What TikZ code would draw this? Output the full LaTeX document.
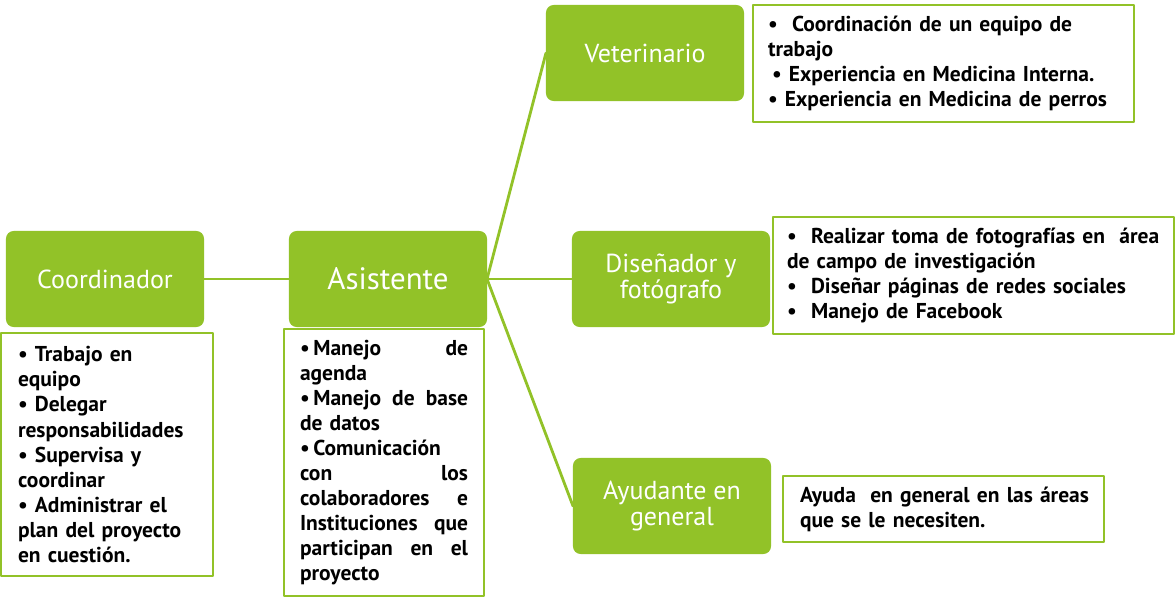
\documentclass[tikz,border=0pt]{standalone}
\usepackage{fontspec}
\setmainfont{PT Sans}
\usetikzlibrary{positioning}
\definecolor{ChartGreen}{RGB}{146,194,40}
\tikzset{
    chart/diagram/.style={
        x=0.025cm, y=-0.025cm,
        line cap=round,
        line join=round,
        every node/.style={inner sep=0pt, outer sep=0pt}
    },
    chart/role/.style={
        fill=ChartGreen, draw=none, rounded corners=5.5pt,
        minimum width=4.95cm, minimum height=2.4cm,
        text=white, align=center,
        font=\fontsize{18.5}{18}\selectfont
    },
    chart/duty/.style={
        anchor=north west, fill=white, draw=ChartGreen, line width=1.4pt,
        align=left, inner ysep=0pt,
        font=\bfseries\fontsize{15.3}{17.8}\selectfont
    },
    chart/link/.style={draw=ChartGreen, line width=2pt}
}

\begin{document}
\begin{tikzpicture}[chart/diagram]
    \useasboundingbox (0,0) rectangle (1176,598);
    % roles
    \node[chart/role] (coord) at (105,279) {Coordinador};
    \node[chart/role, font=\fontsize{22}{24}\selectfont] (asist) at (388,279) {Asistente};
    \node[chart/role] (vet) at (645,53) {Veterinario};
    \node[chart/role] (disen) at (671,279) {Diseñador y\\fotógrafo};
    \node[chart/role] (ayud) at (672,506) {Ayudante en\\general};
    % duties
    \node[chart/duty, inner xsep=0.425cm, text width=4.45cm, minimum height=6.075cm]
        (coordtasks) at (1,333)
        {• Trabajo en\\equipo\\• Delegar\\responsabilidades\\• Supervisa y\\coordinar\\%
         • Administrar el\\plan del proyecto\\en cuestión.};
    \node[chart/duty, inner xsep=0.4cm, text width=4.2cm, minimum height=6.675cm]
        (asisttasks) at (284,329)
        {•\,Manejo\hfill de\\agenda\\•\,Manejo\hfill de\hfill base\\de datos\\%
         •\,Comunicación\\con\hfill los\\colaboradores\hfill e\\%
         Instituciones\hfill que\\participan\hfill en\hfill el\\proyecto};
    \node[chart/duty, inner xsep=0.375cm, text width=8.775cm, minimum height=2.925cm]
        (vettasks) at (753,5)
        {•\ \ Coordinación de un equipo de\\trabajo\\%
         \hspace{0.1cm}• Experiencia en Medicina Interna.\\%
         • Experiencia en Medicina de perros};
    \node[chart/duty, inner xsep=0.35cm, text width=9.325cm, minimum height=2.925cm]
        (disentasks) at (773,217)
        {•\ \ Realizar toma de fotografías en\ \ área\\de campo de investigación\\%
         •\ \ Diseñar páginas de redes sociales\\•\ \ Manejo de Facebook};
    \node[chart/duty, inner xsep=0.2cm, text width=7.625cm, minimum height=1.65cm]
        (ayudtasks) at (783,476)
        {\hspace*{0.225cm}Ayuda\ \ en general en las áreas\\%
         \hspace*{0.225cm}que se le necesiten.};
    % links
    \draw[chart/link] (coord) -- (asist);
    \draw[chart/link] (asist.east) -- (vet.west);
    \draw[chart/link] (asist.east) -- (disen.west);
    \draw[chart/link] (asist.east) -- (ayud.west);
\end{tikzpicture}
\end{document}
